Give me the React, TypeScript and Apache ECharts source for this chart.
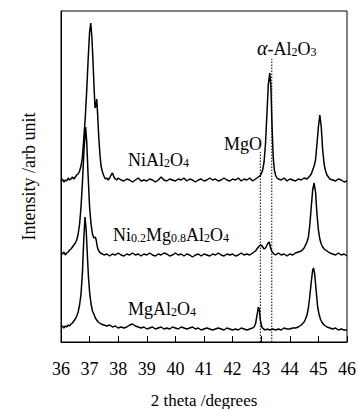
import React, { useEffect, useRef } from "react";
import * as echarts from "echarts";

// 2θ (degrees), intensity (arb. units, offset per pattern)
const niAl2O4: [number, number][] = [
  [36.0, 161], [36.05, 163], [36.1, 160], [36.15, 162], [36.2, 161], [36.25, 164], [36.3, 162], [36.35, 163],
  [36.4, 165], [36.45, 163], [36.5, 165], [36.55, 167], [36.6, 168], [36.65, 171], [36.7, 176], [36.75, 185],
  [36.8, 205], [36.85, 225], [36.9, 252], [36.95, 283], [37.0, 310], [37.04, 319], [37.08, 305], [37.12, 280],
  [37.16, 252], [37.19, 234], [37.22, 236], [37.25, 243], [37.28, 228], [37.32, 205], [37.36, 188], [37.4, 176],
  [37.45, 170], [37.5, 166], [37.55, 163], [37.6, 164], [37.65, 162], [37.7, 164], [37.75, 167], [37.8, 169],
  [37.85, 165], [37.9, 163], [37.95, 162], [38.0, 164], [38.1, 162], [38.2, 161], [38.3, 163], [38.4, 162],
  [38.5, 160], [38.6, 162], [38.7, 164], [38.8, 161], [38.9, 162], [39.0, 161], [39.1, 163], [39.2, 162],
  [39.3, 160], [39.4, 162], [39.5, 165], [39.6, 162], [39.7, 161], [39.8, 163], [39.9, 162], [40.0, 161],
  [40.1, 163], [40.2, 162], [40.3, 164], [40.4, 161], [40.5, 163], [40.6, 162], [40.7, 160], [40.8, 162],
  [40.9, 163], [41.0, 161], [41.1, 162], [41.2, 164], [41.3, 162], [41.4, 163], [41.5, 161], [41.6, 162],
  [41.7, 164], [41.8, 162], [41.9, 161], [42.0, 163], [42.1, 162], [42.2, 164], [42.3, 161], [42.4, 163],
  [42.5, 162], [42.6, 164], [42.7, 161], [42.8, 163], [42.9, 165], [42.95, 166], [43.0, 168], [43.05, 172],
  [43.1, 180], [43.15, 198], [43.2, 228], [43.25, 258], [43.3, 269], [43.34, 255], [43.38, 215], [43.42, 185],
  [43.46, 172], [43.5, 167], [43.55, 164], [43.6, 163], [43.7, 162], [43.8, 164], [43.9, 161], [44.0, 163],
  [44.1, 162], [44.2, 161], [44.3, 163], [44.4, 162], [44.5, 164], [44.6, 163], [44.7, 166], [44.75, 168],
  [44.8, 172], [44.85, 176], [44.9, 182], [44.95, 198], [45.0, 215], [45.05, 227], [45.1, 215], [45.15, 192],
  [45.2, 178], [45.25, 171], [45.3, 167], [45.35, 165], [45.4, 163], [45.5, 162], [45.6, 161], [45.7, 163],
  [45.8, 162], [45.9, 160], [46.0, 161],
];

const niMgAl2O4: [number, number][] = [
  [36.0, 89], [36.05, 88], [36.1, 90], [36.15, 87], [36.2, 89], [36.25, 90], [36.3, 92], [36.35, 93],
  [36.4, 95], [36.45, 97], [36.5, 99], [36.55, 102], [36.6, 108], [36.65, 118], [36.7, 135], [36.75, 160],
  [36.8, 190], [36.86, 215], [36.9, 200], [36.95, 165], [37.0, 135], [37.05, 118], [37.1, 108], [37.15, 104],
  [37.2, 105], [37.23, 102], [37.27, 95], [37.32, 91], [37.38, 89], [37.45, 88], [37.5, 87], [37.6, 88],
  [37.7, 86], [37.8, 88], [37.9, 87], [38.0, 89], [38.1, 87], [38.2, 86], [38.3, 88], [38.4, 87],
  [38.5, 89], [38.6, 87], [38.7, 88], [38.8, 86], [38.9, 88], [39.0, 87], [39.1, 89], [39.2, 87],
  [39.3, 86], [39.4, 88], [39.5, 87], [39.6, 89], [39.7, 88], [39.8, 86], [39.9, 87], [40.0, 89],
  [40.1, 87], [40.2, 88], [40.3, 86], [40.4, 88], [40.5, 87], [40.6, 85], [40.7, 87], [40.8, 88],
  [40.9, 86], [41.0, 88], [41.1, 87], [41.2, 86], [41.3, 88], [41.4, 87], [41.5, 89], [41.6, 87],
  [41.7, 86], [41.8, 88], [41.9, 87], [42.0, 88], [42.1, 86], [42.2, 87], [42.3, 89], [42.4, 87],
  [42.5, 88], [42.6, 87], [42.7, 89], [42.8, 91], [42.9, 95], [42.97, 97], [43.03, 96], [43.1, 93],
  [43.15, 94], [43.22, 98], [43.28, 100], [43.33, 94], [43.38, 90], [43.45, 88], [43.5, 87], [43.6, 89],
  [43.7, 87], [43.8, 88], [43.9, 86], [44.0, 88], [44.1, 87], [44.2, 89], [44.3, 90], [44.4, 91],
  [44.5, 94], [44.55, 97], [44.6, 100], [44.65, 105], [44.7, 117], [44.75, 135], [44.8, 152], [44.85, 159],
  [44.9, 150], [44.95, 128], [45.0, 112], [45.05, 103], [45.1, 98], [45.15, 95], [45.2, 93], [45.3, 91],
  [45.4, 89], [45.5, 88], [45.6, 87], [45.7, 89], [45.8, 87], [45.9, 88], [46.0, 86],
];

const mgAl2O4: [number, number][] = [
  [36.0, 15], [36.05, 16], [36.1, 14], [36.15, 16], [36.2, 15], [36.25, 17], [36.3, 16], [36.35, 18],
  [36.4, 19], [36.45, 21], [36.5, 23], [36.55, 26], [36.6, 30], [36.65, 37], [36.7, 48], [36.75, 70],
  [36.8, 105], [36.84, 125], [36.88, 112], [36.92, 88], [36.96, 65], [37.0, 50], [37.05, 38], [37.1, 31],
  [37.15, 28], [37.2, 24], [37.25, 22], [37.3, 20], [37.35, 19], [37.4, 18], [37.5, 17], [37.6, 16],
  [37.7, 17], [37.8, 15], [37.9, 16], [38.0, 14], [38.1, 15], [38.2, 14], [38.3, 15], [38.4, 17],
  [38.5, 18], [38.6, 16], [38.7, 15], [38.8, 14], [38.9, 15], [39.0, 13], [39.1, 14], [39.2, 15],
  [39.3, 13], [39.4, 14], [39.5, 15], [39.6, 13], [39.7, 14], [39.8, 13], [39.9, 15], [40.0, 14],
  [40.1, 13], [40.2, 15], [40.3, 14], [40.4, 13], [40.5, 14], [40.6, 15], [40.7, 13], [40.8, 14],
  [40.9, 12], [41.0, 13], [41.1, 14], [41.2, 13], [41.3, 12], [41.4, 13], [41.5, 14], [41.6, 13],
  [41.7, 12], [41.8, 14], [41.9, 13], [42.0, 12], [42.1, 13], [42.2, 12], [42.3, 14], [42.4, 13],
  [42.5, 12], [42.6, 13], [42.7, 14], [42.75, 15], [42.8, 18], [42.85, 26], [42.9, 35], [42.93, 33],
  [42.97, 22], [43.02, 15], [43.08, 13], [43.15, 12], [43.2, 13], [43.3, 12], [43.4, 13], [43.5, 12],
  [43.6, 13], [43.7, 12], [43.8, 14], [43.9, 13], [44.0, 13], [44.1, 14], [44.2, 14], [44.3, 15],
  [44.4, 17], [44.5, 20], [44.55, 23], [44.6, 27], [44.65, 34], [44.7, 46], [44.75, 60], [44.8, 72],
  [44.83, 74], [44.87, 68], [44.92, 52], [44.97, 36], [45.02, 28], [45.07, 23], [45.12, 20], [45.2, 17],
  [45.3, 15], [45.4, 14], [45.5, 13], [45.6, 14], [45.7, 12], [45.8, 13], [45.9, 12], [46.0, 12],
];

// Reference position lines (2θ, top of line in intensity units)
const mgOLine: [number, number][] = [[42.97, 0], [42.97, 190]];
const al2O3Line: [number, number][] = [[43.37, 0], [43.37, 283]];

const xTicks = [36, 37, 38, 39, 40, 41, 42, 43, 44, 45, 46];

const FONT = "'Liberation Serif', 'Times New Roman', serif";

const rich = {
  n: { fontSize: 18, fontFamily: FONT, lineHeight: 24, verticalAlign: "bottom", fill: "#000" },
  s: { fontSize: 12, fontFamily: FONT, lineHeight: 12, verticalAlign: "bottom", fill: "#000" },
  a: { fontSize: 20, fontFamily: FONT, fontStyle: "italic", lineHeight: 24, verticalAlign: "bottom", fill: "#000" },
};

function label(text: string, x: number, y: number) {
  return {
    type: "text",
    x,
    y,
    silent: true,
    style: { text, rich, fill: "#000", verticalAlign: "top", align: "left", fontSize: 18, fontFamily: FONT },
  };
}

export default function App() {
  const ref = useRef<HTMLDivElement>(null);
  useEffect(() => {
    if (!ref.current) return;
    const chart = echarts.init(ref.current, undefined, { renderer: "svg" });
    const lineSeries = (data: [number, number][]) => ({
      type: "line",
      data,
      symbol: "none",
      lineStyle: { color: "#000", width: 1.5 },
      silent: true,
    });
    const dotSeries = (data: [number, number][]) => ({
      type: "line",
      data,
      symbol: "none",
      lineStyle: { color: "#000", width: 1, type: [1.5, 1.5] },
      silent: true,
    });
    chart.setOption({
      animation: false,
      backgroundColor: "#fff",
      grid: {
        left: 61, right: 11, top: 11, bottom: 67,
        containLabel: false, outerBoundsMode: "none",
        show: true, borderColor: "#000", borderWidth: 1,
      },
      xAxis: {
        type: "value",
        min: xTicks[0],
        max: xTicks[xTicks.length - 1],
        interval: 1,
        name: "2 theta /degrees",
        nameLocation: "middle",
        nameGap: 50,
        nameTextStyle: { fontSize: 17, fontFamily: FONT, color: "#000" },
        axisLine: { lineStyle: { color: "#000", width: 1 } },
        axisTick: { inside: true, length: 6, lineStyle: { color: "#000" } },
        axisLabel: { fontSize: 18, fontFamily: FONT, color: "#000", margin: 18 },
        splitLine: { show: false },
      },
      yAxis: {
        type: "value",
        min: 0,
        max: 331,
        name: "Intensity /arb unit",
        nameLocation: "middle",
        nameGap: 23,
        nameTextStyle: { fontSize: 18, fontFamily: FONT, color: "#000" },
        axisLine: { show: true, lineStyle: { color: "#000", width: 1 } },
        axisTick: { show: false },
        axisLabel: { show: false },
        splitLine: { show: false },
      },
      series: [
        lineSeries(niAl2O4),
        lineSeries(niMgAl2O4),
        lineSeries(mgAl2O4),
        dotSeries(mgOLine),
        dotSeries(al2O3Line),
      ],
      graphic: [
        label("{n|NiAl}{s|2}{n|O}{s|4}", 128, 145),
        label("{n|Ni}{s|0.2}{n|Mg}{s|0.8}{n|Al}{s|2}{n|O}{s|4}", 113, 220),
        label("{n|MgAl}{s|2}{n|O}{s|4}", 128, 294),
        label("{n|MgO}", 224, 129),
        label("{a|α}{n|-Al}{s|2}{n|O}{s|3}", 257, 34),
      ],
    });
    return () => chart.dispose();
  }, []);
  return <div ref={ref} style={{ width: 358, height: 409, position: "absolute", left: 0, top: 0 }} />;
}
